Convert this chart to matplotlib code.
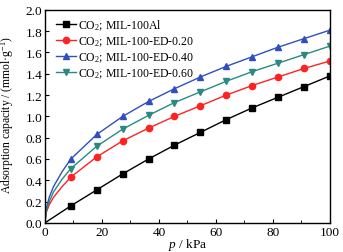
import matplotlib
matplotlib.use("Agg")
import matplotlib.pyplot as plt
from matplotlib.ticker import MultipleLocator

plt.rcParams['font.family'] = ['Liberation Serif', 'DejaVu Serif']
plt.rcParams['mathtext.fontset'] = 'custom'
plt.rcParams['mathtext.rm'] = 'Liberation Serif'
plt.rcParams['mathtext.it'] = 'Liberation Serif:italic'
plt.rcParams['font.size'] = 9

# marker pressures (kPa)
p_marks = [9.09, 18.18, 27.27, 36.36, 45.45, 54.55, 63.64, 72.73, 81.82, 90.91, 100.0]
# low-pressure points of the fitted curves (kPa)
p_low = [0.0, 0.5, 1.5, 3.0, 6.0]

labels = ["CO$_2$; MIL-100Al", "CO$_2$; MIL-100-ED-0.20",
          "CO$_2$; MIL-100-ED-0.40", "CO$_2$; MIL-100-ED-0.60"]

al_marks = [0.16, 0.31, 0.46, 0.60, 0.73, 0.85, 0.97, 1.08, 1.18, 1.28, 1.38]
ed20_marks = [0.43, 0.62, 0.77, 0.89, 1.00, 1.10, 1.20, 1.29, 1.37, 1.45, 1.52]
ed40_marks = [0.60, 0.83, 1.00, 1.14, 1.26, 1.37, 1.47, 1.56, 1.65, 1.73, 1.81]
ed60_marks = [0.51, 0.72, 0.88, 1.01, 1.13, 1.23, 1.33, 1.42, 1.50, 1.58, 1.66]

al_low = [0.0, 0.009, 0.027, 0.053, 0.106]
ed20_low = [0.0, 0.10, 0.17, 0.24, 0.34]
ed40_low = [0.0, 0.14, 0.24, 0.34, 0.48]
ed60_low = [0.0, 0.12, 0.20, 0.29, 0.41]

series = [
    (al_low, al_marks, '#000000', 's'),
    (ed20_low, ed20_marks, '#ff2222', 'o'),
    (ed40_low, ed40_marks, '#2f4fbf', '^'),
    (ed60_low, ed60_marks, '#2a8a82', 'v'),
]

fig = plt.figure(figsize=(3.43, 2.53), dpi=100)
ax = fig.add_axes([0.131, 0.115, 0.831, 0.842])
for s in ax.spines.values():
    s.set_linewidth(1.0)

for (low, marks, c, m), lab in zip(series, labels):
    ax.plot(p_low + p_marks, low + marks, color=c, lw=1.0, marker=m,
            markevery=list(range(len(p_low), len(p_low) + len(p_marks))),
            markersize=4.5, label=lab)

ax.set_xlim(0, 100)
ax.set_ylim(0, 2.0)
ax.xaxis.set_major_locator(MultipleLocator(20))
ax.xaxis.set_minor_locator(MultipleLocator(10))
ax.yaxis.set_major_locator(MultipleLocator(0.2))
ax.yaxis.set_major_formatter(matplotlib.ticker.FormatStrFormatter('%.1f'))
ax.tick_params(which='both', direction='in', labelsize=9.5, pad=2)
ax.tick_params(which='major', length=3)
ax.tick_params(which='minor', length=2)
ax.set_xlabel('$\\it{p}$ / kPa', fontsize=9.5, labelpad=-1)
ax.set_ylabel('Adsorption capacity / (mmol·g$^{-1}$)', fontsize=8.4)
ax.yaxis.set_label_coords(-0.1, 0.51)

ax.legend(loc='upper left', frameon=False, fontsize=8.5, handlelength=1.7,
          handletextpad=0.15, labelspacing=0.2, borderaxespad=0.25,
          bbox_to_anchor=(0.012, 1.0))

fig.savefig('out.png', dpi=100)
